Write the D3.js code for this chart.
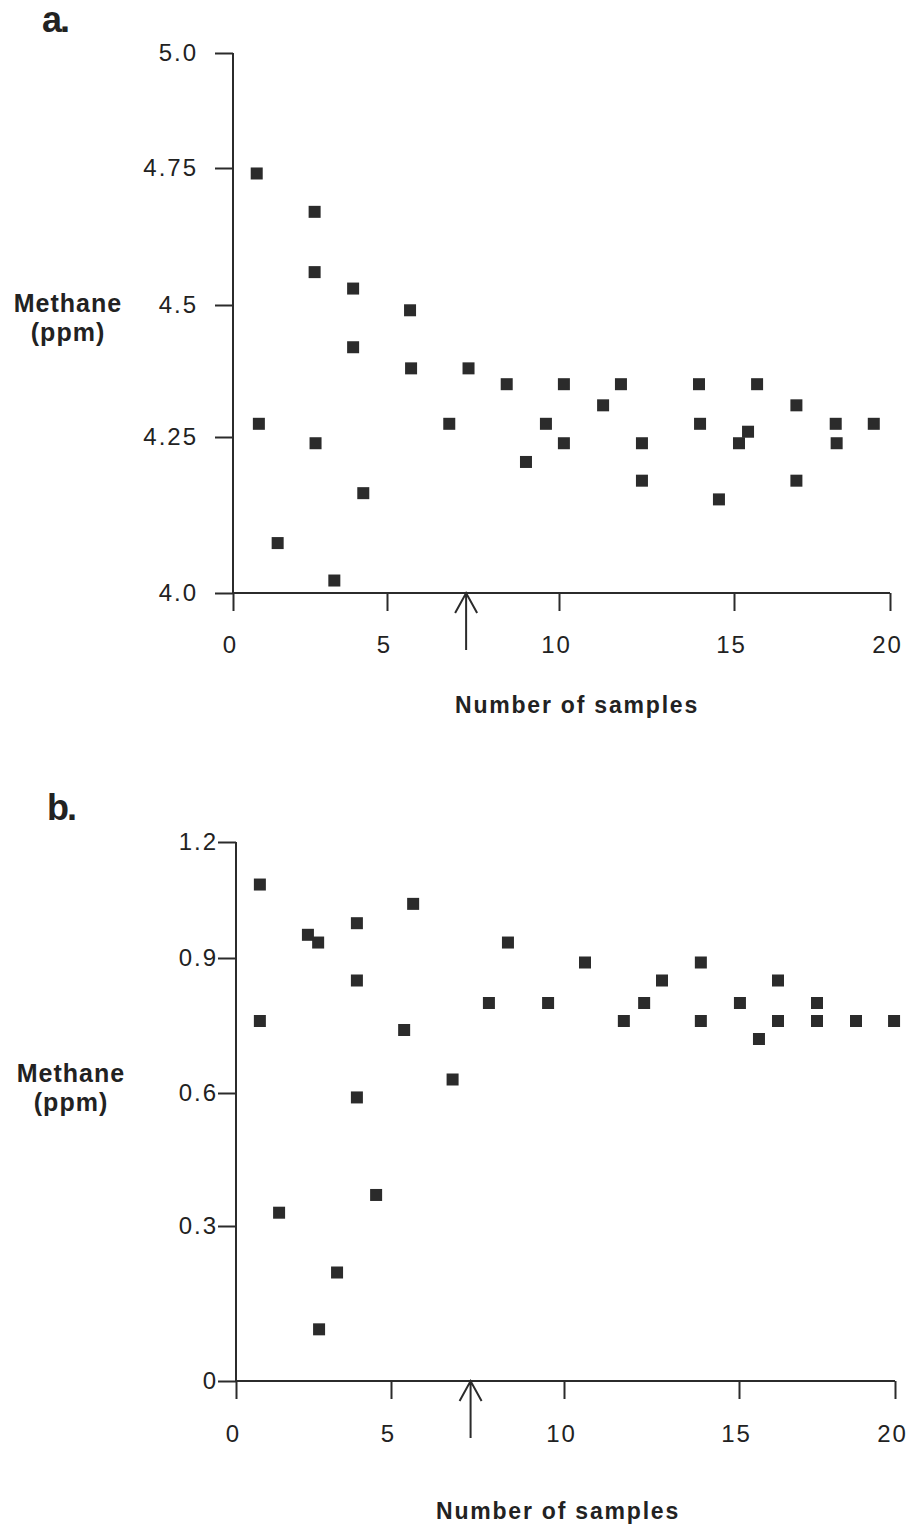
<!DOCTYPE html>
<html>
<head>
<meta charset="utf-8">
<script src="https://cdn.jsdelivr.net/npm/d3@7"></script>
<style>
body { margin: 0; background: #fff; }
text { font-family: "Liberation Sans", Arial, Helvetica, sans-serif; fill: #222; }
</style>
</head>
<body>
<svg id="chart"></svg>
<script>
// x axis is the same for both panels
const xTicks = [0, 5, 10, 15, 20];

const yTicksA = [4.0, 4.25, 4.5, 4.75, 5.0];
const yTickLabelsA = ["4.0", "4.25", "4.5", "4.75", "5.0"];
const yTicksB = [0, 0.3, 0.6, 0.9, 1.2];
const yTickLabelsB = ["0", "0.3", "0.6", "0.9", "1.2"];

// panel a
const samplesA = [0.77, 2.65, 2.65, 3.90, 5.67, 3.90, 5.70, 7.37, 0.84, 2.68, 6.81, 4.23, 1.45, 3.29,
    8.48, 10.14, 11.77, 11.26, 9.62, 10.14, 9.04, 12.37, 12.37, 14.0, 15.74, 17.0, 14.03, 15.45,
    15.16, 18.26, 19.48, 18.29, 17.0, 14.57];
const methaneA = [4.74, 4.67, 4.56, 4.53, 4.49, 4.42, 4.38, 4.38, 4.275, 4.24, 4.275, 4.16, 4.08, 4.02,
    4.35, 4.35, 4.35, 4.31, 4.275, 4.24, 4.21, 4.24, 4.18, 4.35, 4.35, 4.31, 4.275, 4.26,
    4.24, 4.275, 4.275, 4.24, 4.18, 4.15];

// panel b
const samplesB = [0.77, 2.32, 2.65, 3.90, 5.64, 3.90, 0.77, 5.38, 6.78, 3.90, 4.52, 1.39, 3.26, 2.68,
    8.38, 10.6, 13.91, 12.8, 16.25, 7.83, 9.54, 12.29, 15.03, 17.5, 11.71, 13.91, 16.25, 17.5,
    18.75, 19.97, 15.64];
const methaneB = [1.09, 0.96, 0.94, 0.99, 1.04, 0.85, 0.76, 0.74, 0.63, 0.59, 0.37, 0.33, 0.21, 0.10,
    0.94, 0.89, 0.89, 0.85, 0.85, 0.80, 0.80, 0.80, 0.80, 0.80, 0.76, 0.76, 0.76, 0.76,
    0.76, 0.76, 0.72];

// where the arrow points on each x axis
const arrowAt = [7.3, 7.3];

const svgWidth = 909, svgHeight = 1529;
const ink = "#2b2b2b";
const boxSize = 12;

var svg = d3.select("#chart")
    .attr("width", svgWidth)
    .attr("height", svgHeight);

// the original axes are hand drawn, so the scales are piecewise
const panels = [
    { name: "a.", samples: samplesA, methane: methaneA, yTicks: yTicksA, yLabels: yTickLabelsA, arrow: arrowAt[0],
      xRange: [233, 387, 559, 734, 890], yRange: [593, 437, 305, 168, 53], yPad: 17, xPad: 25,
      nameX: 42, nameY: 32, methX: 68, methY: 312, titleX: 577, titleY: 713 },
    { name: "b.", samples: samplesB, methane: methaneB, yTicks: yTicksB, yLabels: yTickLabelsB, arrow: arrowAt[1],
      xRange: [236, 391, 564, 739, 895], yRange: [1381, 1226, 1093, 958, 842], yPad: 0, xPad: 26,
      nameX: 47, nameY: 820, methX: 71, methY: 1082, titleX: 558, titleY: 1519 }
];

panels.forEach(drawPanel);

function drawPanel(p) {
    let x = d3.scaleLinear().domain(xTicks).range(p.xRange);
    let y = d3.scaleLinear().domain(p.yTicks).range(p.yRange);
    let y0 = p.yTicks[0], yTop = p.yTicks[p.yTicks.length - 1];

    let g = svg.append("g");

    let yAxis = d3.axisLeft(y)
        .tickValues(p.yTicks)
        .tickFormat(function(d) { return p.yLabels[p.yTicks.indexOf(d)]; })
        .tickSize(18)
        .tickPadding(p.yPad);

    let xAxis = d3.axisBottom(x)
        .tickValues(xTicks)
        .tickSize(18)
        .tickPadding(p.xPad);

    let ya = g.append("g")
        .attr("transform", "translate(" + x(0) + ",0)")
        .call(yAxis);
    let xa = g.append("g")
        .attr("transform", "translate(0," + y(y0) + ")")
        .call(xAxis);

    [ya, xa].forEach(a => {
        a.select(".domain").remove();
        a.selectAll("line").attr("stroke", ink).attr("stroke-width", 2);
        a.selectAll("text")
            .style("font-size", "24px")
            .style("letter-spacing", "2px")
            .attr("fill", "#222");
        a.attr("font-family", null).attr("font-size", null);
    });
    xa.selectAll("text").attr("dx", -3);

    // axis lines
    g.append("line")
        .attr("x1", x(0)).attr("x2", x(0))
        .attr("y1", y(yTop)).attr("y2", y(y0))
        .attr("stroke", ink).attr("stroke-width", 2);
    g.append("line")
        .attr("x1", x(0)).attr("x2", x(20))
        .attr("y1", y(y0)).attr("y2", y(y0))
        .attr("stroke", ink).attr("stroke-width", 2);

    // arrow under the x axis
    let ax = x(p.arrow), ay = y(y0);
    g.append("path")
        .attr("d", "M" + ax + "," + (ay + 57) + "V" + ay +
            "M" + (ax - 11) + "," + (ay + 20) + "L" + ax + "," + ay + "L" + (ax + 11) + "," + (ay + 20))
        .attr("fill", "none")
        .attr("stroke", ink)
        .attr("stroke-width", 2);

    // points
    g.selectAll("rect.pt")
        .data(p.samples.map((s, i) => [s, p.methane[i]]))
        .enter()
        .append("rect")
        .attr("class", "pt")
        .attr("x", d => x(d[0]) - boxSize / 2)
        .attr("y", d => y(d[1]) - boxSize / 2)
        .attr("width", boxSize)
        .attr("height", boxSize)
        .attr("fill", ink);

    // labels
    g.append("text")
        .attr("x", p.nameX).attr("y", p.nameY)
        .style("font-size", "36px")
        .style("font-weight", "bold")
        .style("letter-spacing", "-2px")
        .text(p.name);

    let meth = g.append("text")
        .attr("text-anchor", "middle")
        .style("font-size", "25px")
        .style("font-weight", "bold")
        .style("letter-spacing", "1px");
    meth.append("tspan").attr("x", p.methX).attr("y", p.methY).text("Methane");
    meth.append("tspan").attr("x", p.methX).attr("y", p.methY + 29).text("(ppm)");

    g.append("text")
        .attr("x", p.titleX).attr("y", p.titleY)
        .attr("text-anchor", "middle")
        .style("font-size", "23px")
        .style("font-weight", "bold")
        .style("letter-spacing", "1.8px")
        .text("Number of samples");
}
</script>
</body>
</html>
